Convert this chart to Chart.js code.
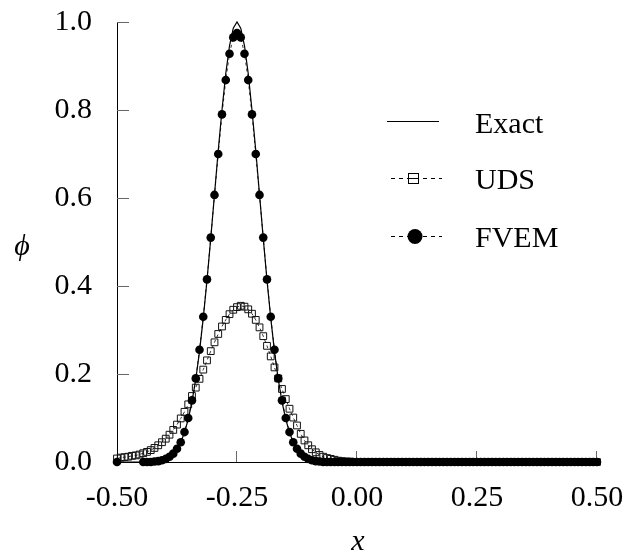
<!DOCTYPE html>
<html>
<head>
<meta charset="utf-8">
<script src="https://cdn.jsdelivr.net/npm/chart.js@4.4.1/dist/chart.umd.min.js"></script>
<style>
  html, body { margin: 0; padding: 0; background: #fff; }
  #wrap { width: 636px; height: 558px; }
</style>
</head>
<body>
<div id="wrap"><canvas id="myChart" width="636" height="558"></canvas></div>
<script>
// mesh nodes, dx = 1/128
var xs = [
  -0.5, -0.4922, -0.4844, -0.4766, -0.4688, -0.4609, -0.4531, -0.4453, -0.4375, -0.4297,
  -0.4219, -0.4141, -0.4063, -0.3984, -0.3906, -0.3828, -0.375, -0.3672, -0.3594, -0.3516,
  -0.3438, -0.3359, -0.3281, -0.3203, -0.3125, -0.3047, -0.2969, -0.2891, -0.2813, -0.2734,
  -0.2656, -0.2578, -0.25, -0.2422, -0.2344, -0.2266, -0.2188, -0.2109, -0.2031, -0.1953,
  -0.1875, -0.1797, -0.1719, -0.1641, -0.1563, -0.1484, -0.1406, -0.1328, -0.125, -0.1172,
  -0.1094, -0.1016, -0.0938, -0.0859, -0.0781, -0.0703, -0.0625, -0.0547, -0.0469, -0.0391,
  -0.0313, -0.0234, -0.0156, -0.0078, 0, 0.0078, 0.0156, 0.0234, 0.0313, 0.0391,
  0.0469, 0.0547, 0.0625, 0.0703, 0.0781, 0.0859, 0.0938, 0.1016, 0.1094, 0.1172,
  0.125, 0.1328, 0.1406, 0.1484, 0.1563, 0.1641, 0.1719, 0.1797, 0.1875, 0.1953,
  0.2031, 0.2109, 0.2188, 0.2266, 0.2344, 0.2422, 0.25, 0.2578, 0.2656, 0.2734,
  0.2813, 0.2891, 0.2969, 0.3047, 0.3125, 0.3203, 0.3281, 0.3359, 0.3438, 0.3516,
  0.3594, 0.3672, 0.375, 0.3828, 0.3906, 0.3984, 0.4063, 0.4141, 0.4219, 0.4297,
  0.4375, 0.4453, 0.4531, 0.4609, 0.4688, 0.4766, 0.4844, 0.4922, 0.5
];

var exact = [
  0, 0, 0, 0, 0, 0, 0, 0, 0, 0,
  0.001, 0.002, 0.004, 0.007, 0.011, 0.018, 0.029, 0.045, 0.067, 0.097,
  0.137, 0.188, 0.251, 0.327, 0.413, 0.508, 0.608, 0.708, 0.800, 0.883,
  0.946, 0.986, 1.000, 0.986, 0.946, 0.883, 0.800, 0.708, 0.608, 0.508,
  0.413, 0.327, 0.251, 0.188, 0.137, 0.097, 0.067, 0.045, 0.029, 0.018,
  0.011, 0.007, 0.004, 0.002, 0.001, 0, 0, 0, 0, 0,
  0, 0, 0, 0, 0, 0, 0, 0, 0, 0,
  0, 0, 0, 0, 0, 0, 0, 0, 0, 0,
  0, 0, 0, 0, 0, 0, 0, 0, 0, 0,
  0, 0, 0, 0, 0, 0, 0, 0, 0, 0,
  0, 0, 0, 0, 0, 0, 0, 0, 0, 0,
  0, 0, 0, 0, 0, 0, 0, 0, 0, 0,
  0, 0, 0, 0, 0, 0, 0, 0, 0
];

var uds = [
  0.008, 0.010, 0.011, 0.012, 0.014, 0.015, 0.017, 0.020, 0.023, 0.027,
  0.032, 0.038, 0.045, 0.053, 0.062, 0.073, 0.085, 0.099, 0.114, 0.131,
  0.150, 0.169, 0.189, 0.210, 0.231, 0.252, 0.272, 0.291, 0.308, 0.323,
  0.336, 0.346, 0.352, 0.355, 0.353, 0.347, 0.337, 0.323, 0.306, 0.286,
  0.264, 0.240, 0.215, 0.190, 0.166, 0.143, 0.121, 0.101, 0.083, 0.064,
  0.049, 0.038, 0.029, 0.022, 0.016, 0.012, 0.009, 0.007, 0.005, 0.003,
  0.002, 0.001, 0.001, 0, 0, 0, 0, 0, 0, 0,
  0, 0, 0, 0, 0, 0, 0, 0, 0, 0,
  0, 0, 0, 0, 0, 0, 0, 0, 0, 0,
  0, 0, 0, 0, 0, 0, 0, 0, 0, 0,
  0, 0, 0, 0, 0, 0, 0, 0, 0, 0,
  0, 0, 0, 0, 0, 0, 0, 0, 0, 0,
  0, 0, 0, 0, 0, 0, 0, 0, 0
];

// null = undershoot below 0, not plotted
var fvem = [
  0, null, null, null, null, null, null, 0, 0, 0,
  0.001, 0.002, 0.004, 0.007, 0.012, 0.019, 0.030, 0.045, 0.068, 0.100,
  0.140, 0.190, 0.255, 0.330, 0.415, 0.510, 0.607, 0.700, 0.790, 0.868,
  0.928, 0.965, 0.975, 0.965, 0.928, 0.868, 0.790, 0.700, 0.607, 0.510,
  0.415, 0.330, 0.255, 0.190, 0.140, 0.100, 0.068, 0.045, 0.030, 0.019,
  0.012, 0.007, 0.004, 0.002, 0.001, 0, 0, 0, 0, 0,
  0, 0, 0, 0, 0, 0, 0, 0, 0, 0,
  0, 0, 0, 0, 0, 0, 0, 0, 0, 0,
  0, 0, 0, 0, 0, 0, 0, 0, 0, 0,
  0, 0, 0, 0, 0, 0, 0, 0, 0, 0,
  0, 0, 0, 0, 0, 0, 0, 0, 0, 0,
  0, 0, 0, 0, 0, 0, 0, 0, 0, 0,
  0, 0, 0, 0, 0, 0, 0, 0, 0
];

var xTicks = [-0.5, -0.25, 0, 0.25, 0.5];
var yTicks = [0, 0.2, 0.4, 0.6, 0.8, 1.0];

function pts(ys) {
  return xs.map(function (x, i) { return { x: x, y: ys[i] }; });
}

var serif = '"Liberation Serif", "Times New Roman", serif';

// inward ticks, axis titles and the legend inside the plot
var decor = {
  id: 'decor',
  beforeDatasetsDraw: function (chart) {
    var ctx = chart.ctx, x = chart.scales.x, y = chart.scales.y;
    ctx.save();
    ctx.strokeStyle = '#666';
    ctx.lineWidth = 1;
    ctx.beginPath();
    yTicks.forEach(function (v) {
      if (v === 0) return;
      var py = Math.round(y.getPixelForValue(v)) + 0.5;
      ctx.moveTo(x.left, py);
      ctx.lineTo(x.left + 12, py);
    });
    xTicks.forEach(function (v) {
      if (v === -0.5) return;
      var px = Math.round(x.getPixelForValue(v)) - 0.5;
      ctx.moveTo(px, y.bottom);
      ctx.lineTo(px, y.bottom - 11);
    });
    ctx.stroke();
    ctx.restore();
  },
  afterDraw: function (chart) {
    var ctx = chart.ctx;
    ctx.save();
    ctx.fillStyle = '#000';
    ctx.font = 'italic 30px ' + serif;
    ctx.textAlign = 'center';
    ctx.textBaseline = 'alphabetic';
    ctx.fillText('\u03D5', 22, 255);
    ctx.fillText('x', 358, 550);

    // legend
    ctx.font = '30px ' + serif;
    ctx.textAlign = 'left';
    ctx.fillText('Exact', 475, 133);
    ctx.fillText('UDS', 475, 189);
    ctx.fillText('FVEM', 475, 247);

    ctx.strokeStyle = '#000';
    ctx.lineWidth = 1;
    ctx.beginPath();
    ctx.moveTo(387, 121.5);
    ctx.lineTo(439, 121.5);
    ctx.stroke();

    ctx.setLineDash([4, 4]);
    ctx.beginPath();
    ctx.moveTo(391, 178.5);
    ctx.lineTo(442, 178.5);
    ctx.moveTo(391, 236.5);
    ctx.lineTo(442, 236.5);
    ctx.stroke();
    ctx.setLineDash([]);

    ctx.fillStyle = '#fff';
    ctx.fillRect(408, 173, 10, 10);
    ctx.strokeRect(408.5, 173.5, 10, 10);
    ctx.beginPath();
    ctx.moveTo(408, 178.5);
    ctx.lineTo(419, 178.5);
    ctx.stroke();

    ctx.fillStyle = '#000';
    ctx.beginPath();
    ctx.arc(415, 236.5, 7.5, 0, Math.PI * 2);
    ctx.fill();
    ctx.restore();
  }
};

var ctx = document.getElementById('myChart').getContext('2d');

var myChart = new Chart(ctx, {
  type: 'line',
  data: {
    datasets: [{
      label: 'Exact',
      data: pts(exact),
      borderColor: '#000',
      borderWidth: 1.2,
      pointRadius: 0,
      tension: 0,
      clip: false
    }, {
      label: 'FVEM',
      data: pts(fvem),
      borderColor: '#333',
      borderWidth: 1,
      borderDash: [3, 3],
      pointStyle: 'circle',
      pointRadius: 4.3,
      pointBackgroundColor: '#000',
      pointBorderColor: '#000',
      pointBorderWidth: 0,
      tension: 0,
      spanGaps: false,
      clip: false
    }, {
      label: 'UDS',
      data: pts(uds),
      borderColor: '#333',
      borderWidth: 1,
      borderDash: [3, 3],
      pointStyle: 'rect',
      pointRadius: 4.8,
      pointBackgroundColor: 'rgba(0,0,0,0)',
      pointBorderColor: '#111',
      pointBorderWidth: 1,
      tension: 0,
      clip: false
    }]
  },
  options: {
    responsive: false,
    animation: false,
    events: [],
    layout: {
      padding: { top: 22, right: 39, bottom: 0, left: 0 }
    },
    plugins: {
      legend: { display: false },
      tooltip: { enabled: false }
    },
    scales: {
      x: {
        type: 'linear',
        min: -0.5,
        max: 0.5,
        afterBuildTicks: function (scale) {
          scale.ticks = xTicks.map(function (v) { return { value: v }; });
        },
        afterFit: function (scale) {
          scale.height = 96;
          scale.paddingLeft = 0;
          scale.paddingRight = 0;
        },
        ticks: {
          color: '#000',
          padding: 18,
          maxRotation: 0,
          font: { family: serif, size: 30 },
          callback: function (v) { return v.toFixed(2); }
        },
        grid: { display: false, drawTicks: false },
        border: { display: true, color: '#000', width: 1 }
      },
      y: {
        min: 0,
        max: 1,
        afterBuildTicks: function (scale) {
          scale.ticks = yTicks.map(function (v) { return { value: v }; });
        },
        afterFit: function (scale) {
          scale.width = 117;
          scale.paddingTop = 0;
          scale.paddingBottom = 0;
        },
        ticks: {
          color: '#000',
          padding: 25,
          font: { family: serif, size: 30 },
          callback: function (v) { return v.toFixed(1); }
        },
        grid: { display: false, drawTicks: false },
        border: { display: true, color: '#000', width: 1 }
      }
    }
  },
  plugins: [decor]
});
</script>
</body>
</html>
